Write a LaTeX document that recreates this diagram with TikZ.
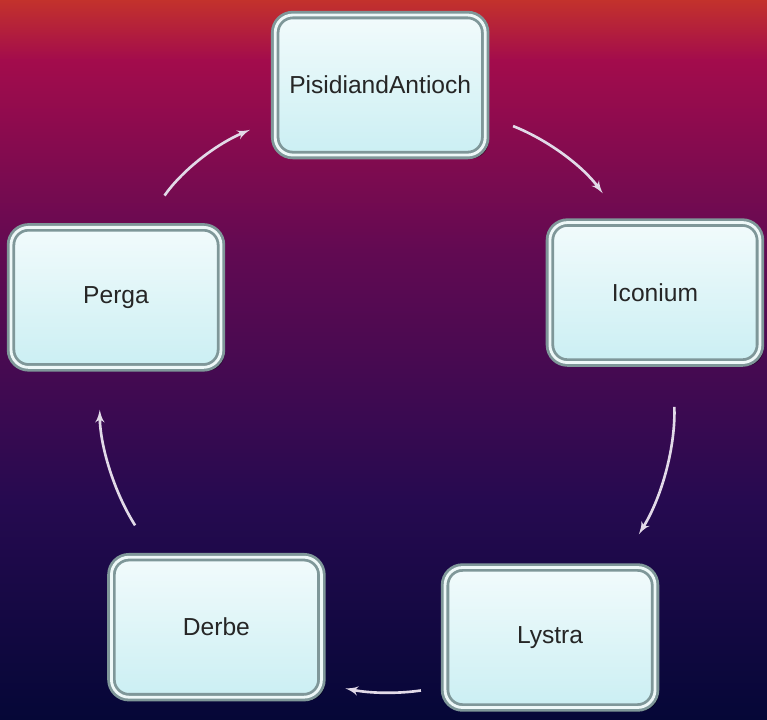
\documentclass[tikz,border=0pt]{standalone}
\usepackage{fontspec}
\setmainfont{Liberation Sans}
\usetikzlibrary{shadows}
\usetikzlibrary{arrows}
\definecolor{bgred}{HTML}{C3322C}
\definecolor{bgmagenta}{HTML}{A30C4C}
\definecolor{bgplum}{HTML}{620A52}
\definecolor{bgviolet}{HTML}{260A50}
\definecolor{bgnavy}{HTML}{050737}
\definecolor{boxedge}{HTML}{7F9799}
\definecolor{boxlight}{HTML}{EEF8F8}
\definecolor{boxtop}{HTML}{F2FBFC}
\definecolor{boxbottom}{HTML}{CBEFF3}
\definecolor{boxtext}{HTML}{262626}
\definecolor{arrowgray}{HTML}{E2DAE8}

\begin{document}
\begin{tikzpicture}[
    place/.style={draw=boxedge, double=boxlight, line width=1.6pt,
    double distance=1.6pt, rounded corners=10pt, top color=boxtop,
    bottom color=boxbottom, minimum width=4.2cm, minimum height=2.8cm,
    text=boxtext, font=\fontsize{14}{16}\selectfont,
    drop shadow={shadow xshift=2pt, shadow yshift=-2pt, fill=black, opacity=0.5}},
    route/.style={line width=1.5pt, ->, >=latex', draw=arrowgray}]
    \coordinate (O) at (0,0);
    \useasboundingbox (-7.70,-6.58) rectangle (7.64,7.80);

    \shade[top color=bgred, bottom color=bgmagenta] (-7.70,6.59) rectangle (7.64,7.80);
    \shade[top color=bgmagenta, bottom color=bgplum] (-7.70,2.79) rectangle (7.64,6.60);
    \shade[top color=bgplum, bottom color=bgviolet] (-7.70,-2.21) rectangle (7.64,2.80);
    \shade[top color=bgviolet, bottom color=bgnavy] (-7.70,-6.58) rectangle (7.64,-2.20);

    \node[place] (pisid) at (90.9:6.10) {PisidiandAntioch};
    \node[place] (iconium) at (19.85:5.74) {Iconium};
    \node[place] (lystra) at (-56.3:5.95) {Lystra};
    \node[place] (derbe) at (234.6:5.82) {Derbe};
    \node[place] (perga) at (161:5.69) {Perga};

    \draw[route, shorten <=0.74cm, shorten >=0.52cm] (perga.69) to[bend left=16] (pisid.198);
    \draw[route, shorten <=0.57cm, shorten >=0.69cm] (pisid.-16) to[bend left=16] (iconium.114);
    \draw[route, shorten <=0.86cm, shorten >=0.75cm] (iconium.-76) to[bend left=17] (lystra.46);
    \draw[route, shorten <=0.46cm, shorten >=0.46cm] (lystra.205) to[bend left=10] (derbe.-28);
    \draw[route, shorten <=0.72cm, shorten >=0.82cm] (derbe.131) to[bend left=16] (perga.257);

\end{tikzpicture}
\end{document}
